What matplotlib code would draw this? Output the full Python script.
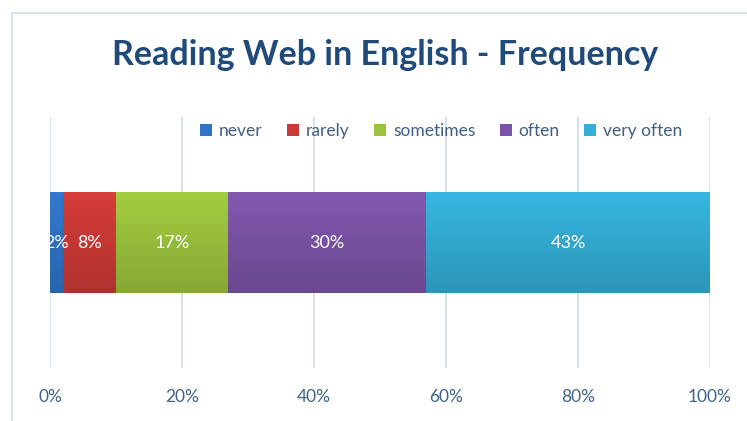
import matplotlib.pyplot as plt
import matplotlib.colors as mcolors
import numpy as np
from matplotlib.patches import Rectangle
from matplotlib.ticker import FuncFormatter

# reading frequency shares (percent)
categories = ["never", "rarely", "sometimes", "often", "very often"]
shares = [2, 8, 17, 30, 43]
colors = ["#2F74C6", "#CC3A37", "#9CC33D", "#7C54A7", "#34AED6"]
ticks = [0, 20, 40, 60, 80, 100]

plt.rcParams['font.family'] = ['Lato', 'DejaVu Sans']

fig = plt.figure(figsize=(7.47, 4.21), dpi=100)
W, H = 747, 421

# light chart frame
fig.patches.append(Rectangle((12 / W, -0.1), 1.2, (H - 13) / H + 0.1,
                             transform=fig.transFigure, fill=False,
                             edgecolor="#CCDCEE", linewidth=1.2))

ax = fig.add_axes([50 / W, 1 - 368 / H, 660 / W, 251 / H])
ax.set_xlim(0, 100)
ax.set_ylim(-0.5, 0.5)

left = 0
for cat, val, col in zip(categories, shares, colors):
    bar = ax.barh(0, val, left=left, height=0.4, color=col, label=cat,
                  edgecolor="none", zorder=2)[0]
    # soft vertical shading like an office-style bar
    base = np.array(mcolors.to_rgb(col))
    grad = np.linspace(1.05, 0.86, 64)[:, None, None] * base[None, None, :]
    grad = np.clip(grad, 0, 1)
    im = ax.imshow(grad, extent=(left, left + val, -0.2, 0.2), aspect="auto",
                   zorder=3, origin="upper")
    im.set_clip_path(bar)
    ax.text(left + val / 2, 0, f"{val}%", ha="center", va="center",
            color="white", fontsize=13, zorder=4)
    left += val

for t in ticks:
    ax.axvline(t, color="#D5E0EE", linewidth=1.3, zorder=1)

ax.set_xticks(ticks)
ax.xaxis.set_major_formatter(FuncFormatter(lambda v, _: f"{v:.0f}%"))
ax.tick_params(axis="x", length=0, pad=15, labelsize=12.5, labelcolor="#3F6388")
ax.set_yticks([])
for s in ax.spines.values():
    s.set_visible(False)

fig.text(385 / W, 1 - 55 / H, "Reading Web in English - Frequency",
         ha="center", va="center", fontsize=24.5, fontweight="bold",
         color="#1F4A7A")

leg = fig.legend(loc="center", bbox_to_anchor=(441 / W, 1 - 131 / H), ncol=5,
                 frameon=False, fontsize=12.5, handlelength=0.7,
                 handleheight=0.7, handletextpad=0.4, columnspacing=1.4)
for txt in leg.get_texts():
    txt.set_color("#3F5F86")

fig.savefig("out.png", dpi=100, facecolor="white")
